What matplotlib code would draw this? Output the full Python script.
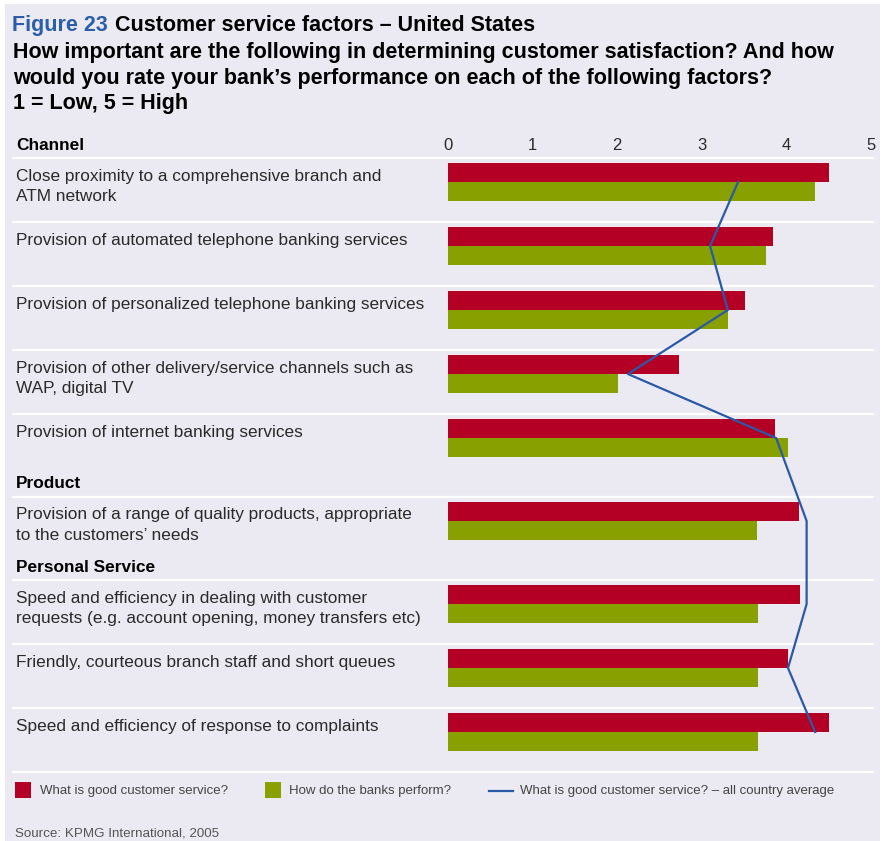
import matplotlib
matplotlib.use("Agg")
import matplotlib.pyplot as plt
from matplotlib.patches import Rectangle
from matplotlib.lines import Line2D
from matplotlib.transforms import blended_transform_factory

plt.rcParams['font.family'] = ['Liberation Sans', 'DejaVu Sans']

# ---------------- data ----------------
categories = [
    "Close proximity to a comprehensive branch and\nATM network",
    "Provision of automated telephone banking services",
    "Provision of personalized telephone banking services",
    "Provision of other delivery/service channels such as\nWAP, digital TV",
    "Provision of internet banking services",
    "Provision of a range of quality products, appropriate\nto the customers\u2019 needs",
    "Speed and efficiency in dealing with customer\nrequests (e.g. account opening, money transfers etc)",
    "Friendly, courteous branch staff and short queues",
    "Speed and efficiency of response to complaints",
]
# section header shown before the category with that index
sections = {0: "Channel", 5: "Product", 6: "Personal Service"}

good_service = [4.51, 3.84, 3.51, 2.73, 3.87, 4.15, 4.16, 4.02, 4.51]
bank_perform = [4.34, 3.76, 3.31, 2.01, 4.02, 3.65, 3.66, 3.66, 3.66]
country_avg = [3.43, 3.10, 3.31, 2.13, 3.88, 4.24, 4.24, 4.02, 4.34]

xticks = [0, 1, 2, 3, 4, 5]
legend_labels = ["What is good customer service?",
                 "How do the banks perform?",
                 "What is good customer service? \u2013 all country average"]

# ---------------- style ----------------
W, H = 882, 841
BG = "#ebeaf3"
RED = "#b40024"
GREEN = "#88a000"
BLUE = "#2a5aa6"
TITLE_BLUE = "#2b5ea8"
TXT = "#2a2a2a"
ROW = 64
HEADER = 19
BAR_H = 19
LAB_FS = 12.4
TITLE_FS = 15.5

fig = plt.figure(figsize=(W / 100, H / 100), dpi=100)
fig.patch.set_facecolor("white")
fig.add_artist(Rectangle((5 / W, 0), 875 / W, 837 / H, transform=fig.transFigure,
                         facecolor=BG, edgecolor="none", zorder=-10))


def fx(px):
    return px / W


def fy(py):
    return 1 - py / H


# layout of rows (in pixel-like units from the top of the plot area)
row_tops = []
y = 0
for i in range(len(categories)):
    if i in sections and i != 0:
        y += HEADER
    row_tops.append(y)
    y += ROW
total = y

ax_top, ax_bottom = 158, 158 + total
ax = fig.add_axes([fx(447.5), fy(ax_bottom), fx(871 - 447.5), (ax_bottom - ax_top) / H])
ax.set_facecolor("none")
ax.set_xlim(0, 5)
ax.set_ylim(total, 0)
for s in ax.spines.values():
    s.set_visible(False)
ax.xaxis.tick_top()
ax.set_xticks(xticks)
ax.set_xticklabels([str(t) for t in xticks])
ax.tick_params(axis="x", length=0, pad=3.5, labelsize=12, labelcolor=TXT)
ax.set_yticks([])

centers = [t + 5 + BAR_H for t in row_tops]
ax.barh([c - BAR_H / 2 for c in centers], good_service, height=BAR_H, color=RED, zorder=2)
ax.barh([c + BAR_H / 2 for c in centers], bank_perform, height=BAR_H, color=GREEN, zorder=2)
ax.plot(country_avg, centers, color=BLUE, lw=1.6, zorder=3)

# separators
tr = blended_transform_factory(fig.transFigure, ax.transData)
for t in row_tops + [total]:
    ax.add_line(Line2D([fx(13), fx(873)], [t, t], transform=tr, color="white",
                       lw=1.6, clip_on=False, zorder=1))

# category labels and section headers
for i, (lab, t) in enumerate(zip(categories, row_tops)):
    ax.text(fx(16), t + 10.5, lab, transform=tr, ha="left", va="top", fontsize=LAB_FS,
            color=TXT, linespacing=1.45)
    if i in sections:
        ax.text(fx(16), t - 13, sections[i], transform=tr, ha="left", va="center",
                fontsize=LAB_FS, fontweight="bold", color="black")

# title
t1 = fig.text(fx(12), fy(31), "Figure 23", fontsize=TITLE_FS, fontweight="bold",
              color=TITLE_BLUE, va="baseline")
fig.canvas.draw()
bb = t1.get_window_extent()
fig.text(bb.x1 / W + fx(7), fy(31), "Customer service factors \u2013 United States",
         fontsize=TITLE_FS, fontweight="bold", color="black", va="baseline")
title_lines = ["How important are the following in determining customer satisfaction? And how",
               "would you rate your bank\u2019s performance on each of the following factors?",
               "1 = Low, 5 = High"]
for ln, base in zip(title_lines, [58, 84, 109]):
    fig.text(fx(13), fy(base), ln, fontsize=TITLE_FS, fontweight="bold", color="black",
             va="baseline")

# legend
LG = "#444444"
fig.add_artist(Rectangle((fx(15), fy(798)), fx(16), 16 / H, transform=fig.transFigure,
                         facecolor=RED, edgecolor="none"))
fig.text(fx(40), fy(791), legend_labels[0], fontsize=9.5, color=LG, va="center")
fig.add_artist(Rectangle((fx(265), fy(798)), fx(16), 16 / H, transform=fig.transFigure,
                         facecolor=GREEN, edgecolor="none"))
fig.text(fx(289), fy(791), legend_labels[1], fontsize=9.5, color=LG, va="center")
fig.add_artist(Line2D([fx(489), fx(513)], [fy(791), fy(791)], transform=fig.transFigure,
                      color=BLUE, lw=1.6))
fig.text(fx(520), fy(791), legend_labels[2], fontsize=9.5, color=LG, va="center")

fig.text(fx(15), fy(833), "Source: KPMG International, 2005", fontsize=9.6, color="#555555",
         va="center")

fig.savefig("out.png", dpi=100)
